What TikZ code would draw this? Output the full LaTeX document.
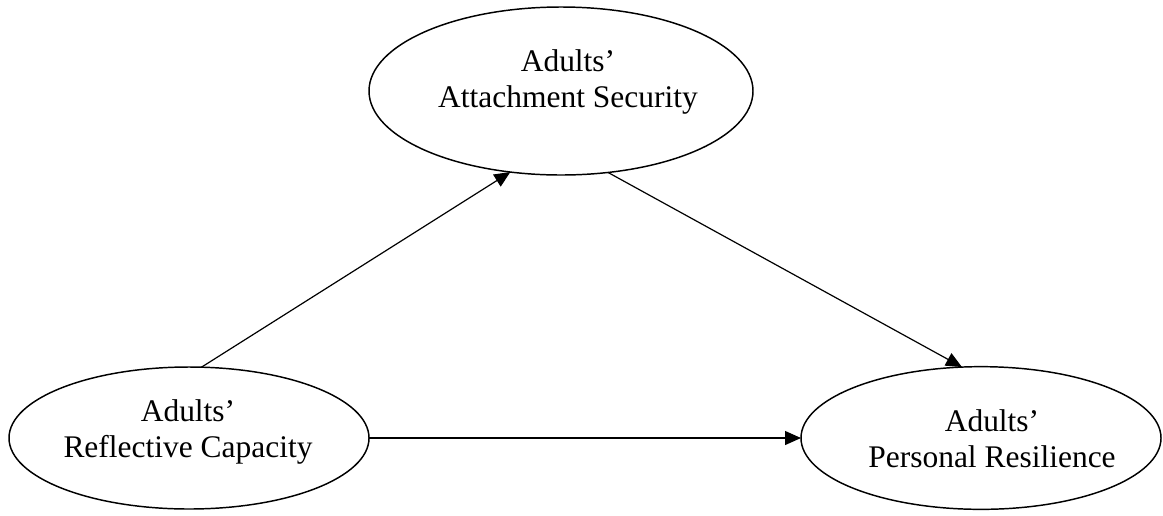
\documentclass[tikz,border=0pt]{standalone}
\usepackage{fontspec}
\setmainfont{Liberation Serif}
\usetikzlibrary{shapes.geometric,arrows.meta}

\begin{document}
\begin{tikzpicture}[x=0.75pt,y=0.75pt,yscale=-1,xscale=1,
        construct/.style={draw, ellipse, line width=1.1pt, inner sep=0pt, outer sep=0pt},
        caption/.style={align=center, inner sep=0pt, font=\fontsize{23.6}{27}\selectfont},
        path/.style={line width=0.9pt, -{Triangle[length=12pt,width=10.5pt]}}]
        \useasboundingbox (0,0) rectangle (1163,515); %keep the page at 1163 x 515

        %Shape: Ellipse [id:attach] 
        \node [construct, minimum width=288pt, minimum height=126pt] (attach) at (561,91) {};
        %Shape: Ellipse [id:reflect] 
        \node [construct, minimum width=270pt, minimum height=106.5pt] (reflect) at (189,438) {};
        %Shape: Ellipse [id:resil] 
        \node [construct, minimum width=270pt, minimum height=107pt] (resil) at (981,438) {};

        % Text Node
        \node [caption] (attachtxt) at (568,82) {Adults'\\Attachment Security};
        % Text Node
        \node [caption] (reflecttxt) at (188,432) {Adults'\\Reflective Capacity};
        % Text Node
        \node [caption] (resiltxt) at (992,439) {Adults'\\Personal Resilience};

        %Straight Lines [id:a] 
        \draw [path] (reflect.80) -- (attach.238) ;
        %Straight Lines [id:b] 
        \draw [path] (attach.300) -- (resil.105) ;
        %Straight Lines [id:c] 
        \draw [path] (reflect.east) -- (resil.west) ;

    \end{tikzpicture}
\end{document}
